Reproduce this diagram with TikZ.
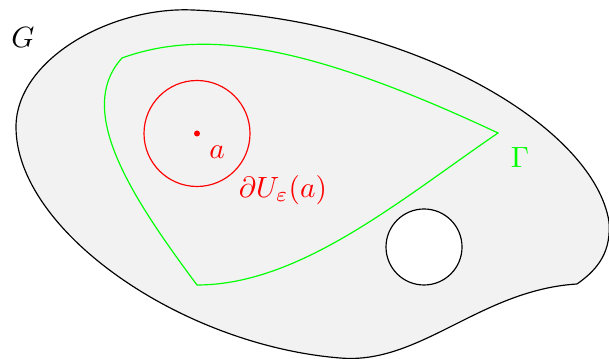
\documentclass[tikz,border=0pt]{standalone}
\usepackage{amssymb}
\usepackage{amsmath}
\usepackage{tikz}

\begin{document}
\begin{tikzpicture}[x=0.012cm,y=-0.012cm]
\useasboundingbox (0,0) rectangle (609,359);
\draw[fill=gray!10] (577,284) .. controls (600,268) and (611,250) .. (609,222)
  .. controls (595,130) and (420,20) .. (193,10)
  .. controls (110,6.3) and (16,60) .. (16,127)
  .. controls (16,230) and (180,345) .. (340,358)
  .. controls (420,365) and (480,290) .. (577,284);
\draw[fill=white] (424,247) circle (38);
\draw[green] (122,58) .. controls (200,30) and (300,40) .. (498,133)
  .. controls (400,200) and (300,285) .. (197,285)
  .. controls (130,195) and (75,110) .. (122,58);
\draw[red] (197,133.5) circle (53);
\fill[red] (197,133.5) circle (3);
\node (G) at (23,38) {$G$};
\node[green] (Gam) at (520,157) {$\Gamma$};
\node[red] (a) at (217,152) {$a$};
\node[red] (dU) at (283,190) {$\partial U_\varepsilon(a)$};
\end{tikzpicture}
\end{document}
